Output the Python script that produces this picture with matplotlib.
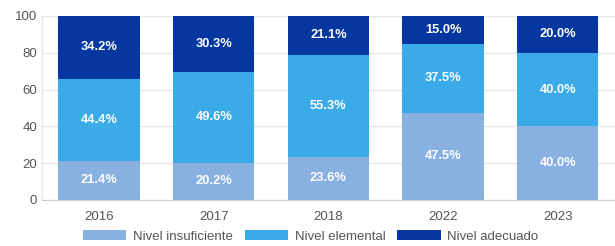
import matplotlib
matplotlib.use("Agg")
import matplotlib.pyplot as plt
import numpy as np

plt.rcParams["font.family"] = ["Liberation Sans", "DejaVu Sans"]

years = ["2016", "2017", "2018", "2022", "2023"]
insuficiente = [21.4, 20.2, 23.6, 47.5, 40.0]
elemental = [44.4, 49.6, 55.3, 37.5, 40.0]
adecuado = [34.2, 30.3, 21.1, 15.0, 20.0]

series = [
    ("Nivel insuficiente", insuficiente, "#88b1e1"),
    ("Nivel elemental", elemental, "#3aaae8"),
    ("Nivel adecuado", adecuado, "#0637a0"),
]

fig = plt.figure(figsize=(6.15, 2.46), dpi=100)
ax = fig.add_axes([0.068, 0.187, 0.932, 0.748])

x = np.arange(len(years))
bottom = np.zeros(len(years))
for name, vals, color in series:
    vals = np.array(vals)
    ax.bar(x, vals, 0.71, bottom=bottom, color=color, label=name, zorder=2)
    for xi, b, v in zip(x, bottom, vals):
        ax.text(xi, b + v / 2, f"{v:.1f}%", ha="center", va="center",
                color="white", fontsize=9.3, fontweight="bold", zorder=3)
    bottom += vals

ax.set_xlim(-0.5, 4.5)
ax.set_ylim(0, 100)
ax.set_yticks([0, 20, 40, 60, 80, 100])
ax.set_xticks(x)
ax.set_xticklabels(years)
ax.yaxis.grid(True, color="#e6e6e6", linewidth=1, zorder=0)
ax.tick_params(axis="both", length=0, labelsize=9.5, colors="#555555")
ax.tick_params(axis="x", pad=8)
for s in ["top", "right"]:
    ax.spines[s].set_visible(False)
ax.spines["left"].set_color("#e6e6e6")
ax.spines["bottom"].set_color("#cccccc")

fig.legend(loc="lower center", bbox_to_anchor=(0.505, -0.035), ncol=3, frameon=False,
           fontsize=9.5, handlelength=3.3, handleheight=0.75, handletextpad=0.5,
           columnspacing=0.9, labelcolor="#555555")

fig.savefig("out.png", dpi=100)
